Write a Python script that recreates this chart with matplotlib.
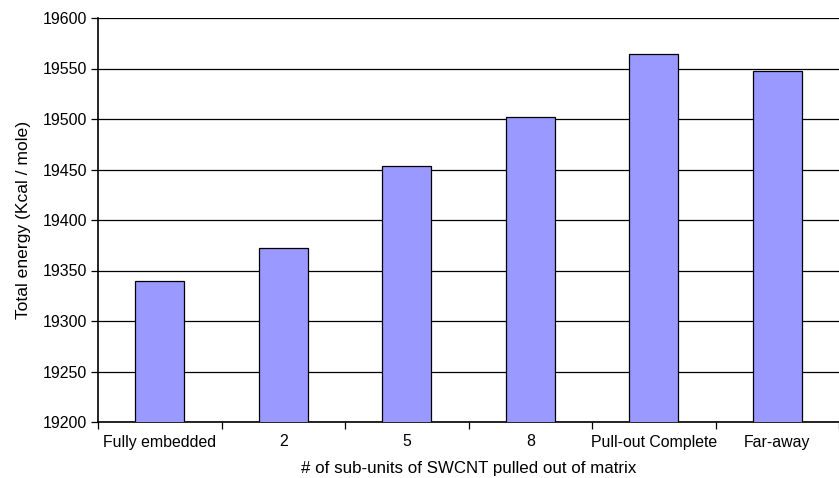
import numpy as np
import matplotlib.pyplot as plt

plt.rcParams['font.family'] = ['Liberation Sans', 'DejaVu Sans']

categories = ['Fully embedded', '2', '5', '8', 'Pull-out Complete', 'Far-away']
energy = [19340, 19372, 19453, 19502, 19564, 19548]

fig = plt.figure(figsize=(8.39, 4.78), dpi=100)
ax = fig.add_axes([98/839, 56/478, 741/839, 404/478])

x = np.arange(len(categories))
ax.bar(x, energy, width=0.4, color='#9999FF', edgecolor='black', linewidth=0.9, zorder=3)
ax.set_ylim(19200, 19600)
ax.set_xlim(-0.5, len(categories) - 0.5)
ax.set_yticks(np.arange(19200, 19601, 50))
ax.yaxis.grid(True, color='black', linewidth=0.9, zorder=0)

# ticks between categories, labels centred under bars
ax.set_xticks(np.arange(-0.5, len(categories), 1.0))
ax.set_xticklabels([])
ax.set_xticks(x, minor=True)
ax.set_xticklabels(categories, minor=True)
ax.tick_params(axis='x', which='minor', length=0, pad=9, labelsize=11.4)
ax.tick_params(axis='x', which='major', length=5, width=0.9, direction='out')
ax.tick_params(axis='y', length=5, width=0.9, direction='out', labelsize=11.5, pad=3)

for s in ['top', 'right']:
    ax.spines[s].set_visible(False)
ax.spines['left'].set_linewidth(1.2)
ax.spines['bottom'].set_linewidth(1.2)

ax.set_xlabel('# of sub-units of SWCNT pulled out of matrix', fontsize=12.2, labelpad=8)
ax.set_ylabel('Total energy (Kcal / mole)', fontsize=12.6, labelpad=8)

fig.savefig('out.png', dpi=100)
